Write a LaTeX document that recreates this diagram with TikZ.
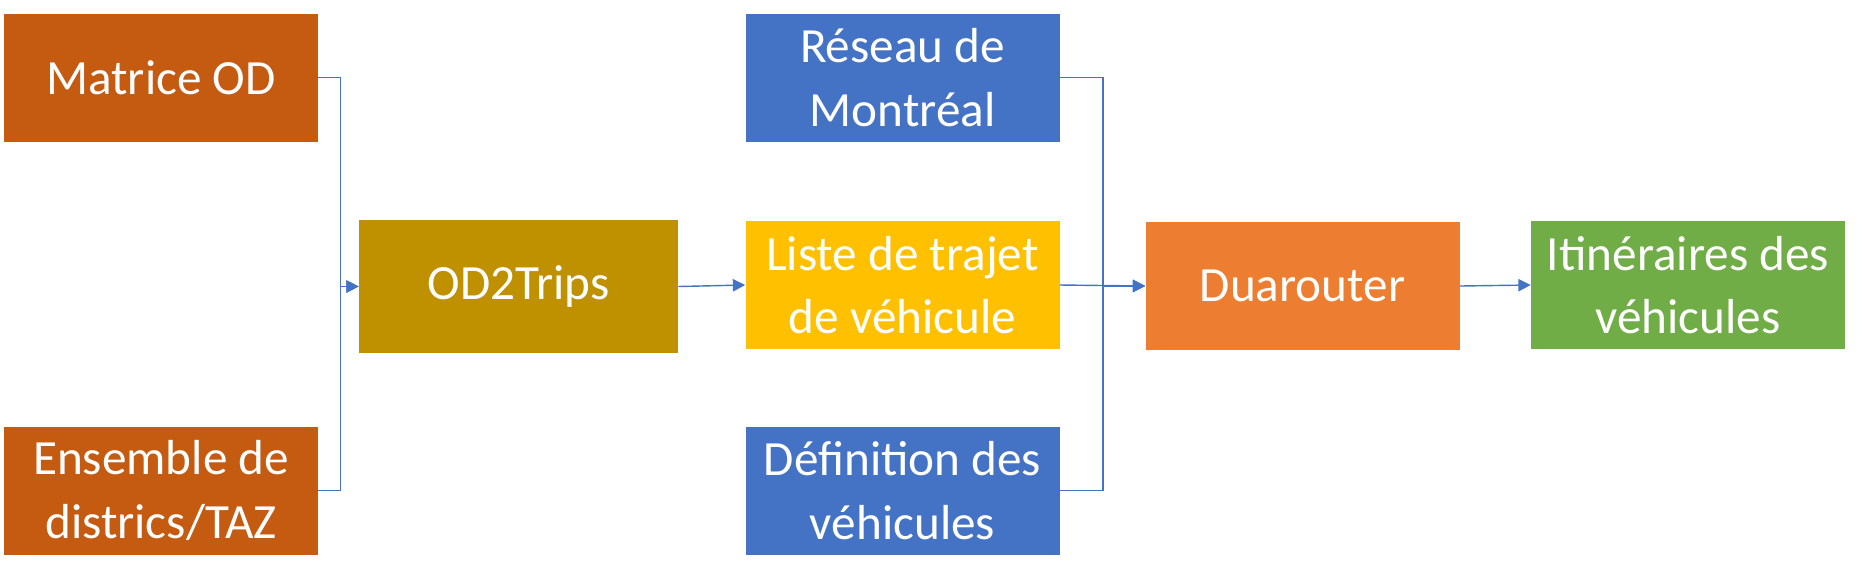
\documentclass[tikz,border=0pt]{standalone}
\usepackage{fontspec}
\setmainfont{Carlito}
\usepackage{xcolor}
\usetikzlibrary{arrows.meta}

\definecolor{rust}{HTML}{C55A11}
\definecolor{mustard}{HTML}{BF9000}
\definecolor{steel}{HTML}{4472C4}
\definecolor{gold}{HTML}{FFC000}
\definecolor{tangerine}{HTML}{ED7D31}
\definecolor{leaf}{HTML}{70AD47}

\begin{document}
\begin{tikzpicture}[
    every node/.style={text=white, align=center, minimum width=6.28cm,
        minimum height=2.56cm, inner sep=0pt, font=\fontsize{28}{36}\selectfont},
    link/.style={draw=steel, line width=0.8pt},
    >={Triangle[length=7pt, width=7pt]},
]
    \useasboundingbox (0,0) rectangle (37.44,-11.68);

    \node[fill=rust] (matrix) at (3.22,-1.55) {Matrice OD};
    \node[fill=rust] (taz) at (3.22,-9.81) {Ensemble de\\districs/TAZ};
    \node[fill=mustard, minimum width=6.38cm, minimum height=2.66cm] (odtrips) at (10.37,-5.73) {OD2Trips};
    \node[fill=steel] (network) at (18.05,-1.55) {Réseau de\\Montréal};
    \node[fill=gold] (trips) at (18.05,-5.70) {Liste de trajet\\de véhicule};
    \node[fill=steel] (vtypes) at (18.05,-9.81) {Définition des\\véhicules};
    \node[fill=tangerine] (duarouter) at (26.05,-5.72) {Duarouter};
    \node[fill=leaf] (routes) at (33.76,-5.70) {Itinéraires des\\véhicules};

    \draw[link, ->] (matrix.east) -- ++(0.44,0) |- (odtrips.west);
    \draw[link, ->] (taz.east) -- ++(0.44,0) |- (odtrips.west);
    \draw[link, ->] (odtrips.east) -- (trips.west);
    \draw[link, ->] (network.east) -- ++(0.86,0) |- (duarouter.west);
    \draw[link, ->] (vtypes.east) -- ++(0.86,0) |- (duarouter.west);
    \draw[link, ->] (trips.east) -- (duarouter.west);
    \draw[link, ->] (duarouter.east) -- (routes.west);
\end{tikzpicture}
\end{document}
